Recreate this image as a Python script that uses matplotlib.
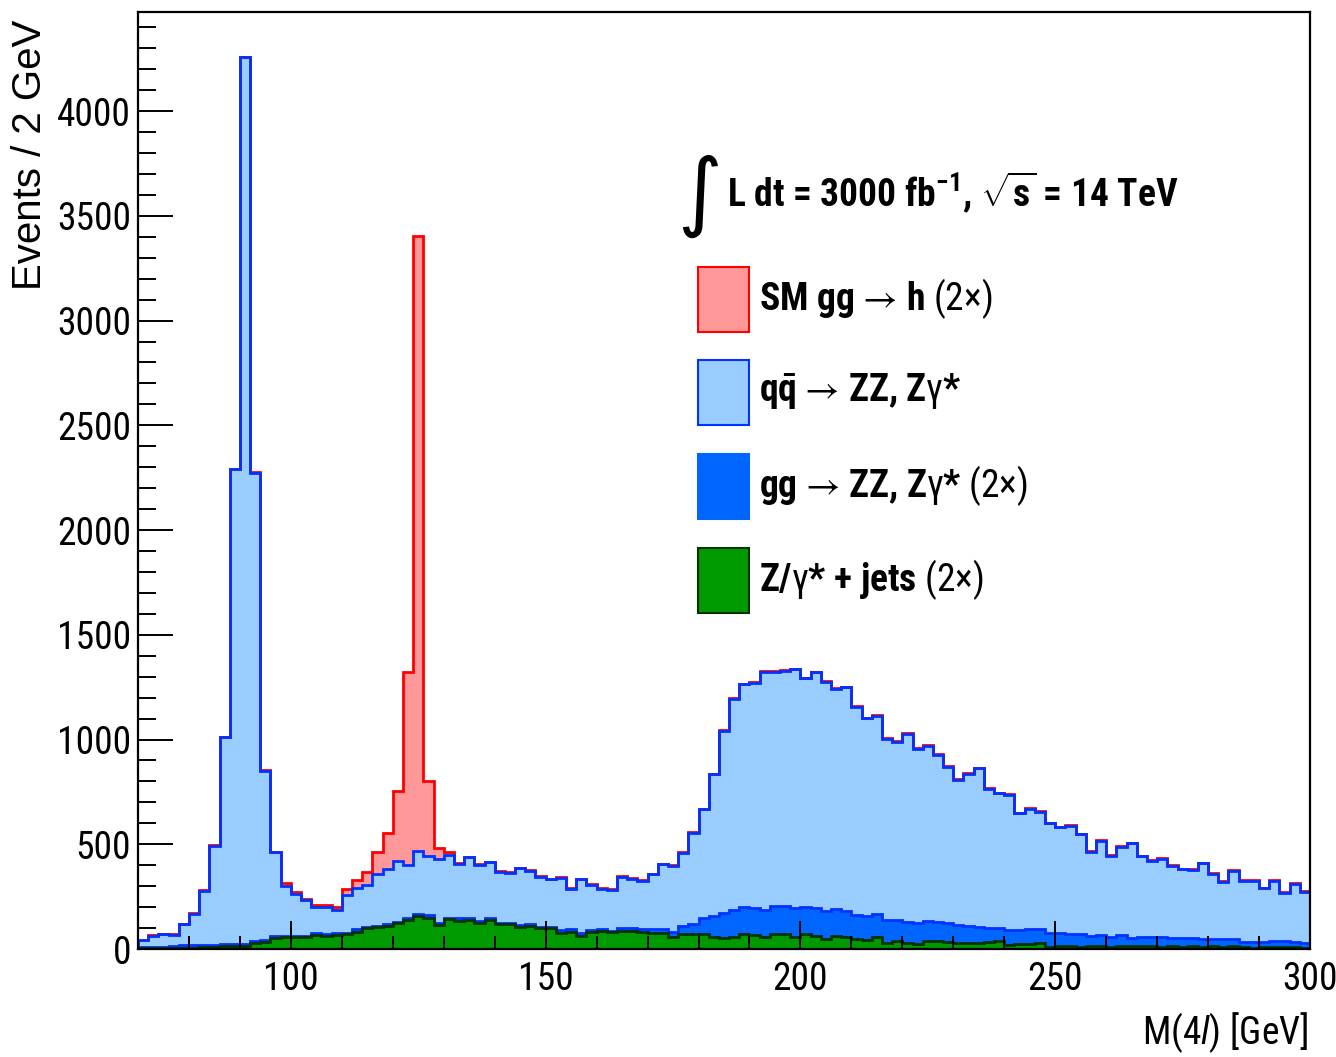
import numpy as np
import matplotlib
matplotlib.use("Agg")
import matplotlib.pyplot as plt
from matplotlib import font_manager
from matplotlib.patches import Rectangle
from matplotlib.ticker import MultipleLocator

# M(4l) from 70 to 300 GeV, 2 GeV bins
bin_edges = np.arange(70, 302, 2)

zjets = [3, 3, 3, 4, 5, 6, 8, 9, 12, 14, 16, 29, 32, 52, 57, 57, 56, 68, 64, 65,
         70, 82, 98, 104, 110, 122, 140, 156, 150, 116, 141, 136, 140, 123, 139, 119, 117, 107, 110, 99,
         98, 78, 83, 62, 83, 88, 80, 88, 87, 80, 75, 75, 59, 70, 70, 73, 59, 54, 56, 70,
         67, 59, 72, 72, 59, 70, 64, 46, 62, 59, 48, 43, 59, 30, 40, 27, 24, 40, 40, 35,
         30, 30, 30, 35, 40, 19, 22, 22, 27, 11, 14, 14, 11, 14, 14, 8, 14, 14, 16, 14,
         11, 14, 11, 14, 11, 14, 11, 14, 8, 6, 8, 11, 11, 8, 6]

ggzz = [8, 8, 8, 9, 12, 11, 13, 12, 12, 10, 8, 8, 9, 8, 7, 7, 8, 8, 9, 11,
        8, 13, 6, 8, 8, 8, 10, 10, 10, 9, 9, 10, 10, 9, 8, 7, 6, 8, 8, 8,
        6, 13, 13, 13, 8, 8, 8, 11, 12, 14, 19, 21, 24, 40, 51, 73, 98, 116, 130, 132,
        130, 127, 133, 133, 138, 132, 133, 135, 127, 124, 114, 114, 108, 108, 98, 103, 98, 94, 90, 87,
        84, 80, 73, 67, 62, 71, 68, 72, 67, 64, 61, 58, 61, 48, 53, 51, 53, 40, 43, 44,
        45, 37, 40, 40, 37, 32, 35, 32, 24, 26, 24, 26, 26, 24, 23]

qqzz = [31, 51, 59, 56, 100, 150, 257, 473, 986, 2266, 4232, 2237, 809, 402, 238, 198, 169, 124, 126, 108,
        182, 198, 203, 248, 265, 291, 249, 300, 284, 307, 300, 261, 287, 270, 267, 243, 241, 270, 254, 238,
        228, 249, 190, 257, 214, 190, 194, 246, 235, 231, 262, 308, 313, 350, 435, 521, 677, 871, 1007, 1061,
        1074, 1138, 1119, 1122, 1138, 1090, 1123, 1092, 1052, 1066, 995, 944, 946, 863, 852, 896, 833, 834, 796, 748,
        693, 725, 759, 661, 641, 645, 557, 574, 561, 525, 506, 517, 475, 402, 450, 386, 420, 450, 383, 362,
        374, 345, 329, 323, 361, 312, 275, 328, 293, 293, 258, 289, 232, 278, 245]

higgs = [3, 3, 3, 3, 3, 3, 3, 3, 3, 3, 3, 3, 3, 3, 11, 10, 7, 12, 11, 15,
         28, 37, 60, 102, 169, 334, 923, 2939, 360, 52, 12, 5, 4, 4, 3, 3, 3, 3, 3, 3,
         3, 3, 3, 3, 3, 3, 3, 3, 3, 3, 3, 3, 3, 3, 3, 3, 3, 3, 3, 4,
         4, 4, 4, 4, 4, 4, 4, 4, 4, 4, 4, 4, 4, 4, 4, 4, 4, 4, 4, 4,
         4, 4, 4, 4, 4, 4, 4, 4, 3, 3, 3, 3, 3, 3, 3, 3, 3, 3, 3, 3,
         3, 3, 3, 3, 3, 3, 3, 3, 3, 3, 3, 3, 3, 3, 3]

labels = ["SM gg $\\mathrm{\u2192}$ h $\\mathrm{(2\u00d7)}$",
          "$\\mathbf{q\\bar{q}}$ $\\mathrm{\u2192}$ ZZ, Z$\\mathrm{\u03b3}$*",
          "gg $\\mathrm{\u2192}$ ZZ, Z$\\mathrm{\u03b3}$* $\\mathrm{(2\u00d7)}$",
          "Z/$\\mathrm{\u03b3}$* + jets $\\mathrm{(2\u00d7)}$"]
fill_colors = ["#ff9999", "#99ccff", "#0066ff", "#009900"]
line_colors = ["#ff0000", "#0033ff", "#0033ff", "#003300"]


def pick_font(names):
    for n in names:
        try:
            font_manager.findfont(n, fallback_to_default=False)
            return n
        except Exception:
            pass
    return "DejaVu Sans"


narrow = pick_font(["Liberation Sans Narrow", "Nimbus Sans Narrow", "Arial Narrow",
                    "Roboto Condensed", "Archivo Narrow", "Liberation Sans"])
regular = pick_font(["Liberation Sans", "DejaVu Sans"])
plt.rcParams["font.family"] = [narrow, "DejaVu Sans"]
plt.rcParams["mathtext.fontset"] = "custom"
plt.rcParams["mathtext.rm"] = narrow
plt.rcParams["mathtext.bf"] = narrow + ":bold"
plt.rcParams["mathtext.it"] = narrow + ":italic"
plt.rcParams["mathtext.sf"] = narrow

W, H = 1336, 1057
fs = 27
fig = plt.figure(figsize=(W / 100, H / 100), dpi=100)
ax = fig.add_axes([138 / W, 1 - 949 / H, (1310 - 138) / W, (949 - 12) / H])

# THStack style: cumulative histograms, biggest first
stack = [np.array(zjets)]
stack.append(stack[-1] + np.array(ggzz))
stack.append(stack[-1] + np.array(qqzz))
stack.append(stack[-1] + np.array(higgs))
stack = stack[::-1]

for vals, fc, lc in zip(stack, fill_colors, line_colors):
    ax.stairs(vals, bin_edges, fill=True, color=fc, zorder=1)
    ax.stairs(vals, bin_edges, color=lc, linewidth=2.0, zorder=1.2)

ax.set_xlim(70, 300)
ax.set_ylim(0, 4473)
ax.set_axisbelow(False)
for s in ax.spines.values():
    s.set_linewidth(1.6)
    s.set_zorder(3)

ax.set_xticks([100, 150, 200, 250, 300])
ax.xaxis.set_minor_locator(MultipleLocator(10))
ax.set_yticks(np.arange(0, 4001, 500))
ax.yaxis.set_minor_locator(MultipleLocator(100))
ax.tick_params(axis="x", which="major", direction="in", length=20, width=1.4, pad=9, labelsize=fs, top=False)
ax.tick_params(axis="x", which="minor", direction="in", length=9.5, width=1.4, top=False)
ax.tick_params(axis="y", which="major", direction="in", length=25, width=1.4, pad=5, labelsize=fs, right=False)
ax.tick_params(axis="y", which="minor", direction="in", length=13, width=1.4, right=False)

fig.text(1308 / W, 1 - 1033 / H, r"M(4$\mathit{l}$) [GeV]", fontsize=fs, ha="right", va="center")
fig.text(30 / W, 1 - 155 / H, "Events / 2 GeV", fontsize=29, family=regular,
         rotation=90, ha="center", va="center")

# legend
fig.text(700 / W, 1 - 196 / H, "\u222b", fontsize=62, family="DejaVu Sans", ha="center", va="center")
fig.text(727 / W, 1 - 192 / H, r"L dt = 3000 fb$^{\mathbf{-1}}$, $\sqrt{\mathbf{s}}$ = 14 TeV",
         fontsize=fs, fontweight="bold", ha="left", va="center")
box_tops = [267, 360, 454, 548]
for top, lab, fc, lc in zip(box_tops, labels, fill_colors, line_colors):
    fig.patches.append(Rectangle((698 / W, 1 - (top + 65) / H), 51 / W, 65 / H,
                                 transform=fig.transFigure, facecolor=fc,
                                 edgecolor=lc if fc != "#0066ff" else fc, linewidth=1.5))
    fig.text(759 / W, 1 - (top + 32) / H, lab, fontsize=fs, fontweight="bold",
             ha="left", va="center")

fig.savefig("out.png", dpi=100)
